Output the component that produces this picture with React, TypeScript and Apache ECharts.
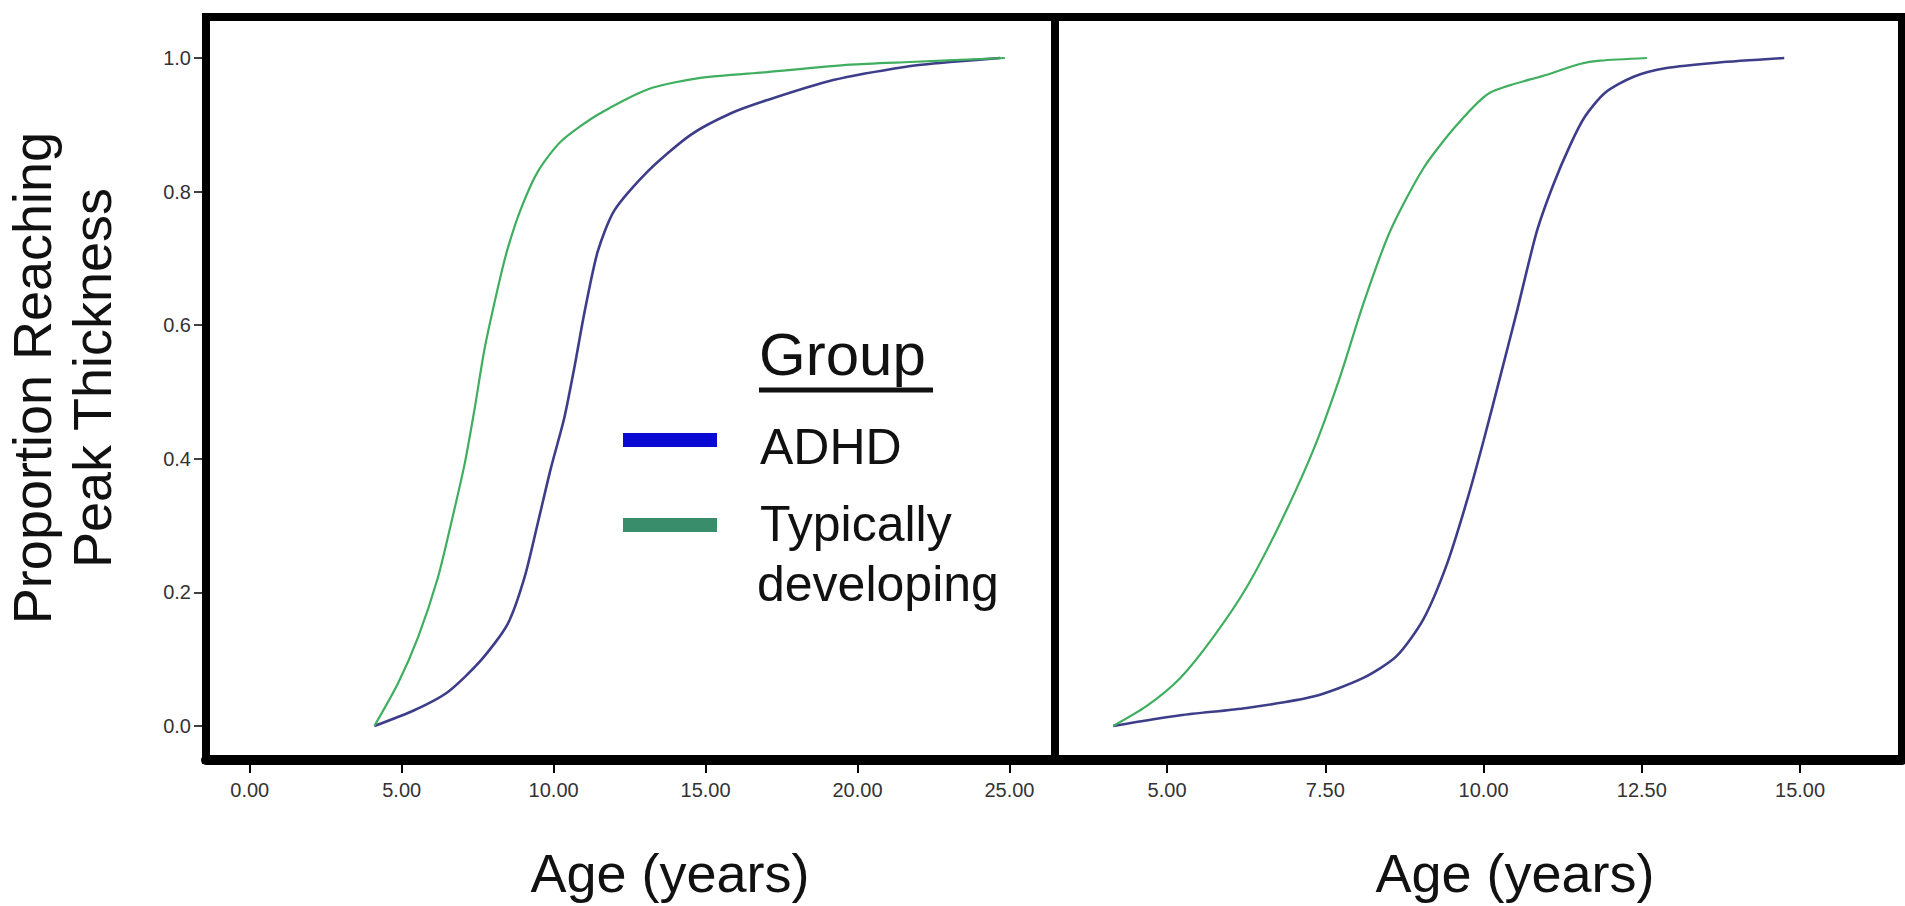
import React, { useEffect, useRef } from "react";
import * as echarts from "echarts";

// ---- tick values ----
const leftAgeTicks = [0, 5, 10, 15, 20, 25];
const rightAgeTicks = [5, 7.5, 10, 12.5, 15];
const propTicks = [0, 0.2, 0.4, 0.6, 0.8, 1.0];

// ---- left panel ----
const leftTdAge = [4.1, 4.88, 5.54, 6.19, 6.63, 7.07, 7.4, 7.72, 8.16, 8.49, 8.93, 9.48, 10.24, 11.45, 13.09, 14.78, 17.03, 19.76, 21.73, 24.85];
const leftTdProp = [0, 0.064, 0.133, 0.222, 0.304, 0.392, 0.475, 0.563, 0.655, 0.715, 0.775, 0.83, 0.875, 0.915, 0.953, 0.97, 0.979, 0.99, 0.994, 1.0];

const leftAdhdAge = [4.1, 5.43, 6.52, 7.62, 8.49, 9.04, 9.48, 9.91, 10.35, 10.68, 11.01, 11.45, 12.0, 13.09, 14.51, 15.82, 17.03, 19.2, 21.6, 23.05, 24.7];
const leftAdhdProp = [0, 0.024, 0.051, 0.099, 0.153, 0.222, 0.304, 0.386, 0.461, 0.536, 0.618, 0.71, 0.772, 0.83, 0.885, 0.917, 0.937, 0.967, 0.987, 0.994, 1.0];

// ---- right panel ----
const rightTdAge = [4.15, 4.68, 5.21, 5.73, 6.26, 6.79, 7.31, 7.73, 8.1, 8.52, 9.05, 9.58, 10.1, 11.0, 11.52, 11.84, 12.58];
const rightTdProp = [0, 0.03, 0.072, 0.133, 0.208, 0.304, 0.413, 0.522, 0.632, 0.74, 0.835, 0.9, 0.948, 0.975, 0.991, 0.996, 1.0];

const rightAdhdAge = [4.15, 5.21, 6.26, 7.31, 8.1, 8.63, 9.05, 9.42, 9.74, 10.0, 10.26, 10.52, 10.84, 11.1, 11.37, 11.6, 11.92, 12.37, 12.89, 13.68, 14.75];
const rightAdhdProp = [0, 0.016, 0.027, 0.044, 0.072, 0.105, 0.16, 0.242, 0.338, 0.427, 0.522, 0.618, 0.74, 0.81, 0.87, 0.912, 0.948, 0.972, 0.985, 0.993, 1.0];

// ---- texts ----
const yTitleLines = ["Proportion Reaching", "Peak Thickness"];
const xTitle = "Age (years)";
const legendTitle = "Group";
const groupNames = ["ADHD", "Typically developing"];

const FONT = "'Liberation Sans', Arial, Helvetica, sans-serif";
const CURVE_BLUE = "#3d3d8a";
const CURVE_GREEN = "#3fae5e";
const KEY_BLUE = "#0a0ad2";
const KEY_GREEN = "#3a8d6b";

const zip = (a: number[], b: number[]) => a.map((v, i) => [v, b[i]]);

export default function App() {
  const ref = useRef<HTMLDivElement>(null);

  useEffect(() => {
    if (!ref.current) return;
    const chart = echarts.init(ref.current, undefined, { renderer: "svg" });

    const xAxisCommon = (ticks: number[]) => ({
      type: "value" as const,
      axisLine: { show: true, onZero: false, lineStyle: { color: "#000", width: 10 } },
      axisTick: { show: true, inside: false, length: 13, customValues: ticks, lineStyle: { color: "#000", width: 2 } },
      axisLabel: {
        customValues: ticks,
        formatter: (v: number) => v.toFixed(2),
        fontSize: 20,
        color: "#333",
        margin: 20,
        fontFamily: FONT,
      },
      splitLine: { show: false },
    });

    const yMin = -0.0509;
    const yMax = 1.0614;

    const lineSeries = (name: string, xi: number, data: number[][], color: string, width: number) => ({
      name,
      type: "line" as const,
      xAxisIndex: xi,
      yAxisIndex: xi,
      data,
      showSymbol: false,
      smooth: 0.25,
      lineStyle: { color, width },
      itemStyle: { color },
    });

    const option: any = {
      animation: false,
      backgroundColor: "#fff",
      grid: [
        { left: 206, top: 17, width: 849, height: 743, show: true, borderColor: "#000", borderWidth: 8, backgroundColor: "transparent" },
        { left: 1055, top: 17, width: 847, height: 743, show: true, borderColor: "#000", borderWidth: 8, backgroundColor: "transparent" },
      ],
      xAxis: [
        { ...xAxisCommon(leftAgeTicks), gridIndex: 0, min: -1.44, max: 26.5 },
        { ...xAxisCommon(rightAgeTicks), gridIndex: 1, min: 3.23, max: 16.61 },
      ],
      yAxis: [
        {
          type: "value",
          gridIndex: 0,
          min: yMin,
          max: yMax,
          position: "left",
          axisLine: { show: true, onZero: false, lineStyle: { color: "#000", width: 8 } },
          axisTick: { show: true, inside: false, length: 12, customValues: propTicks, lineStyle: { color: "#000", width: 1.5 } },
          axisLabel: {
            customValues: propTicks,
            formatter: (v: number) => v.toFixed(1),
            fontSize: 20,
            color: "#333",
            margin: 15,
            fontFamily: FONT,
          },
          splitLine: { show: false },
        },
        {
          type: "value",
          gridIndex: 1,
          min: yMin,
          max: yMax,
          axisLine: { show: false, onZero: false },
          axisTick: { show: false },
          axisLabel: { show: false },
          splitLine: { show: false },
        },
      ],
      series: [
        lineSeries(groupNames[0], 0, zip(leftAdhdAge, leftAdhdProp), CURVE_BLUE, 2.6),
        lineSeries(groupNames[1], 0, zip(leftTdAge, leftTdProp), CURVE_GREEN, 2.2),
        lineSeries(groupNames[0], 1, zip(rightAdhdAge, rightAdhdProp), CURVE_BLUE, 2.6),
        lineSeries(groupNames[1], 1, zip(rightTdAge, rightTdProp), CURVE_GREEN, 2.2),
      ],
      graphic: [
        {
          type: "text",
          x: 32,
          y: 378,
          rotation: Math.PI / 2,
          style: { text: yTitleLines[0], font: `54px ${FONT}`, fill: "#111", align: "center", verticalAlign: "middle" },
        },
        {
          type: "text",
          x: 92,
          y: 378,
          rotation: Math.PI / 2,
          style: { text: yTitleLines[1], font: `54px ${FONT}`, fill: "#111", align: "center", verticalAlign: "middle" },
        },
        {
          type: "text",
          x: 670,
          y: 873,
          style: { text: xTitle, font: `54px ${FONT}`, fill: "#111", align: "center", verticalAlign: "middle" },
        },
        {
          type: "text",
          x: 1515,
          y: 873,
          style: { text: xTitle, font: `54px ${FONT}`, fill: "#111", align: "center", verticalAlign: "middle" },
        },
        {
          type: "text",
          x: 759,
          y: 354,
          style: { text: legendTitle, font: `60px ${FONT}`, fill: "#111", align: "left", verticalAlign: "middle" },
        },
        {
          type: "line",
          shape: { x1: 759, y1: 390, x2: 933, y2: 390 },
          style: { stroke: "#111", lineWidth: 5 },
        },
        {
          type: "rect",
          shape: { x: 623, y: 433, width: 94, height: 14 },
          style: { fill: KEY_BLUE },
        },
        {
          type: "rect",
          shape: { x: 623, y: 518, width: 94, height: 14 },
          style: { fill: KEY_GREEN },
        },
        {
          type: "text",
          x: 760,
          y: 447,
          style: { text: groupNames[0], font: `50px ${FONT}`, fill: "#111", align: "left", verticalAlign: "middle" },
        },
        {
          type: "text",
          x: 760,
          y: 524,
          style: { text: "Typically", font: `50px ${FONT}`, fill: "#111", align: "left", verticalAlign: "middle" },
        },
        {
          type: "text",
          x: 757,
          y: 584,
          style: { text: "developing", font: `50px ${FONT}`, fill: "#111", align: "left", verticalAlign: "middle" },
        },
      ],
    };

    chart.setOption(option);
    return () => chart.dispose();
  }, []);

  return (
    <div
      ref={ref}
      style={{ position: "fixed", left: 0, top: 0, width: 1905, height: 906, background: "#fff" }}
    />
  );
}
